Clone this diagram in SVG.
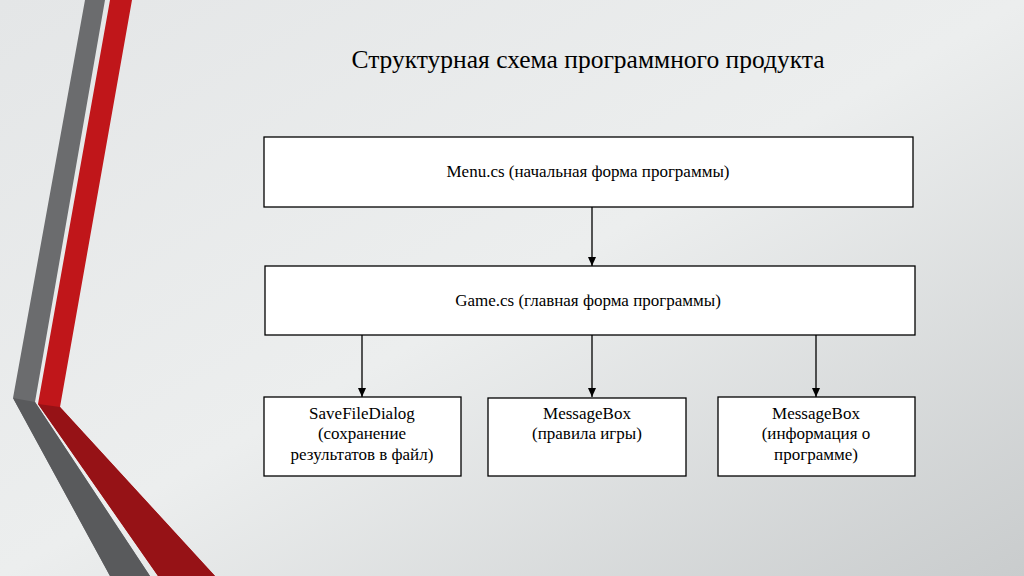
<svg xmlns="http://www.w3.org/2000/svg" width="1024" height="576" viewBox="0 0 1024 576">
<defs>
<linearGradient id="bg" x1="0" y1="0" x2="1" y2="1"><stop offset="0" stop-color="#e4e6e7"/><stop offset="0.5" stop-color="#eceeee"/><stop offset="1" stop-color="#c9cccd"/></linearGradient>
<marker id="ar" markerWidth="10" markerHeight="10" refX="9" refY="5" orient="auto" markerUnits="userSpaceOnUse"><path d="M0,1 L9,5 L0,9 z" fill="#000"/></marker>
<style>
.box{fill:#fff;stroke:#000;stroke-width:1.3}
.t{font-size:17px;fill:#000;text-anchor:middle}
.c{stroke:#000;stroke-width:1.3;fill:none;marker-end:url(#ar)}
</style>
</defs>
<rect width="1024" height="576" fill="url(#bg)"/>
<polygon points="85,0 105,0 35,402 150,576 110,576 13,398" fill="#6b6c6e"/>
<polygon points="13,398 35,402 150,576 110,576" fill="#595a5c"/>
<polygon points="110,0 132,0 60,407 215,576 158,576 38,404" fill="#c0161a"/>
<polygon points="38,404 60,407 215,576 158,576" fill="#961216"/>
<text x="588" y="68" font-family="'Liberation Serif', serif" font-size="25.5" text-anchor="middle">Структурная схема программного продукта</text>
<g id="connectors">
<line class="c" x1="592" y1="207" x2="592" y2="266"/>
<line class="c" x1="362" y1="335" x2="362" y2="397"/>
<line class="c" x1="592" y1="335" x2="592" y2="397"/>
<line class="c" x1="816" y1="335" x2="816" y2="397"/>
</g>
<g id="menu" font-family="'Liberation Serif', serif"><rect class="box" x="264" y="137" width="649" height="70"/><text class="t" x="588" y="177">Menu.cs (начальная форма программы)</text></g>
<g id="game" font-family="'Liberation Serif', serif"><rect class="box" x="265" y="266" width="650" height="69"/><text class="t" x="588" y="306">Game.cs (главная форма программы)</text></g>
<g id="save" font-family="'Liberation Serif', serif"><rect class="box" x="264" y="397" width="197" height="79"/><text class="t" x="362" y="419">SaveFileDialog</text><text class="t" x="362" y="439">(сохранение</text><text class="t" x="362" y="460">результатов в файл)</text></g>
<g id="msg1" font-family="'Liberation Serif', serif"><rect class="box" x="488" y="398" width="198" height="78"/><text class="t" x="587" y="419">MessageBox</text><text class="t" x="587" y="439">(правила игры)</text></g>
<g id="msg2" font-family="'Liberation Serif', serif"><rect class="box" x="718" y="397" width="197" height="79"/><text class="t" x="816" y="419">MessageBox</text><text class="t" x="816" y="439">(информация о</text><text class="t" x="816" y="460">программе)</text></g>
</svg>
